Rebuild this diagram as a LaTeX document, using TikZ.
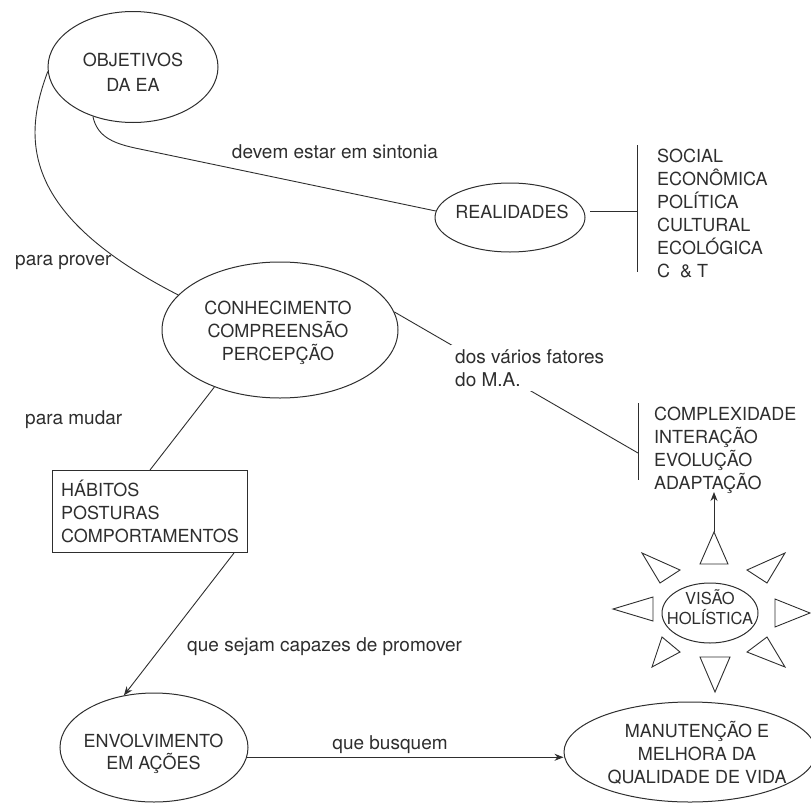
\documentclass[tikz,border=0pt]{standalone}
\usepackage{fontspec}
\setmainfont{TeX Gyre Heros}
\usetikzlibrary{shapes.geometric,arrows.meta,calc}
\definecolor{ink}{gray}{0.18}
\begin{document}
\begin{tikzpicture}[x=1pt,y=-1pt,
  oval/.style={draw=ink,line width=1pt,ellipse,inner sep=0pt},
  caps/.style={text=ink,font=\fontsize{18}{23}\selectfont,align=center,inner sep=0pt},
  capl/.style={caps,align=left},
  lbl/.style={text=ink,font=\fontsize{19}{23}\selectfont,inner sep=0pt},
  link/.style={draw=ink,line width=0.9pt},
  arr/.style={link,-{Stealth[length=9pt,width=7pt]}},
  ray/.style={link,line join=miter},
]
\useasboundingbox (0,0) rectangle (811,803);

% ---- concept ovals ----
\node[oval,minimum width=170pt,minimum height=111pt] (obj)  at (133,67)    {};
\node[oval,minimum width=150pt,minimum height=69pt]  (real) at (510,217.5) {};
\node[oval,minimum width=236pt,minimum height=136pt] (conh) at (280,330)   {};
\node[oval,minimum width=188pt,minimum height=109pt] (env)  at (154,747.5) {};
\node[oval,minimum width=252pt,minimum height=100pt] (man)  at (690,752)   {};
\node[oval,minimum width=96pt,minimum height=60pt]   (vis)  at (710,613)   {};

% ---- texts inside the ovals ----
\node[caps,font=\fontsize{18}{25}\selectfont] (objtxt) at (133,72.5) {OBJETIVOS\\DA EA};
\node[caps] (realtxt) at (512,212) {REALIDADES};
\node[caps] (conhtxt) at (278,332.5) {CONHECIMENTO\\COMPREENSÃO\\PERCEPÇÃO};
\node[caps,font=\fontsize{18}{22}\selectfont] (envtxt) at (153.5,754) {ENVOLVIMENTO\\EM AÇÕES};
\node[caps] (mantxt) at (697,752.5) {MANUTENÇÃO E\\MELHORA DA\\QUALIDADE DE VIDA};
\node[caps,font=\fontsize{16.5}{20}\selectfont] (vistxt) at (710,607) {VISÃO\\HOLÍSTICA};

% ---- boxed habits ----
\node[draw=ink,line width=1pt,capl,inner xsep=8pt,minimum width=195pt,minimum height=82pt,
      anchor=north west] (box) at (52,470) {HÁBITOS\\POSTURAS\\COMPORTAMENTOS};

% ---- lists with their brackets ----
\coordinate (b1top) at (637,145);
\coordinate (b1bot) at (637,272);
\draw[link] (b1top) -- (b1bot);
\node[capl,anchor=north west] (list1) at (657,148.5)
  {SOCIAL\\ECONÔMICA\\POLÍTICA\\CULTURAL\\ECOLÓGICA\\C\ \ \&\ T};

\coordinate (b2top) at (638,403);
\coordinate (b2bot) at (638,480);
\coordinate (b2in)  at (638,453);
\draw[link] (b2top) -- (b2bot);
\node[capl,anchor=north west] (list2) at (654,406.5)
  {COMPLEXIDADE\\INTERAÇÃO\\EVOLUÇÃO\\ADAPTAÇÃO};

% ---- connectors ----
\draw[link] (obj.231) .. controls (97,136) and (112,143) .. (135,148) -- (real.175);
\draw[link] (obj.183) .. controls (22,140) and (22,215) .. (conh.161);
\draw[link,shorten <=6pt] (real.5) -- (real.5 -| b1top);
\draw[link] (conh.9) -- (b2in);
\draw[link] (conh.221) -- (box.north);
\draw[arr] ($(box.south east)+(-14,0)$) -- (env.120);
\draw[arr] (env.-6) -- (env.-6 -| man.west);

% ---- connector labels ----
\node[lbl] (l1) at (335,152) {devem estar em sintonia};
\node[lbl,anchor=west] (l2) at (15,262) {para prover};
\node[lbl,anchor=west,align=left,fill=white,inner sep=4pt] (l3) at (451,368) {dos vários fatores\\do M.A.};
\node[lbl,anchor=west] (l4) at (25,420) {para mudar};
\node[lbl,anchor=west] (l5) at (187,647) {que sejam capazes de promover};
\node[lbl] (l6) at (390,745) {que busquem};

% ---- rays around the holistic view ----
\draw[ray] (700,564) -- (728,564) -- (714,532) -- cycle;
\draw[ray] (700,657) -- (730,657) -- (715,692) -- cycle;
\draw[ray] (653,597) -- (653,621) -- (613,609) -- cycle;
\draw[ray] (775,599) -- (775,627) -- (810,613) -- cycle;
\draw[ray] (680,570) -- (660,583) -- (642,553) -- cycle;
\draw[ray] (747,570) -- (767,583) -- (785,553) -- cycle;
\draw[ray] (662,637) -- (680,652) -- (652,667) -- cycle;
\draw[ray] (747,652) -- (767,637) -- (785,667) -- cycle;
\coordinate (raytop) at (714,532);
\coordinate (rayend) at (714,492);
\draw[arr] (raytop) -- (rayend);
\end{tikzpicture}
\end{document}
